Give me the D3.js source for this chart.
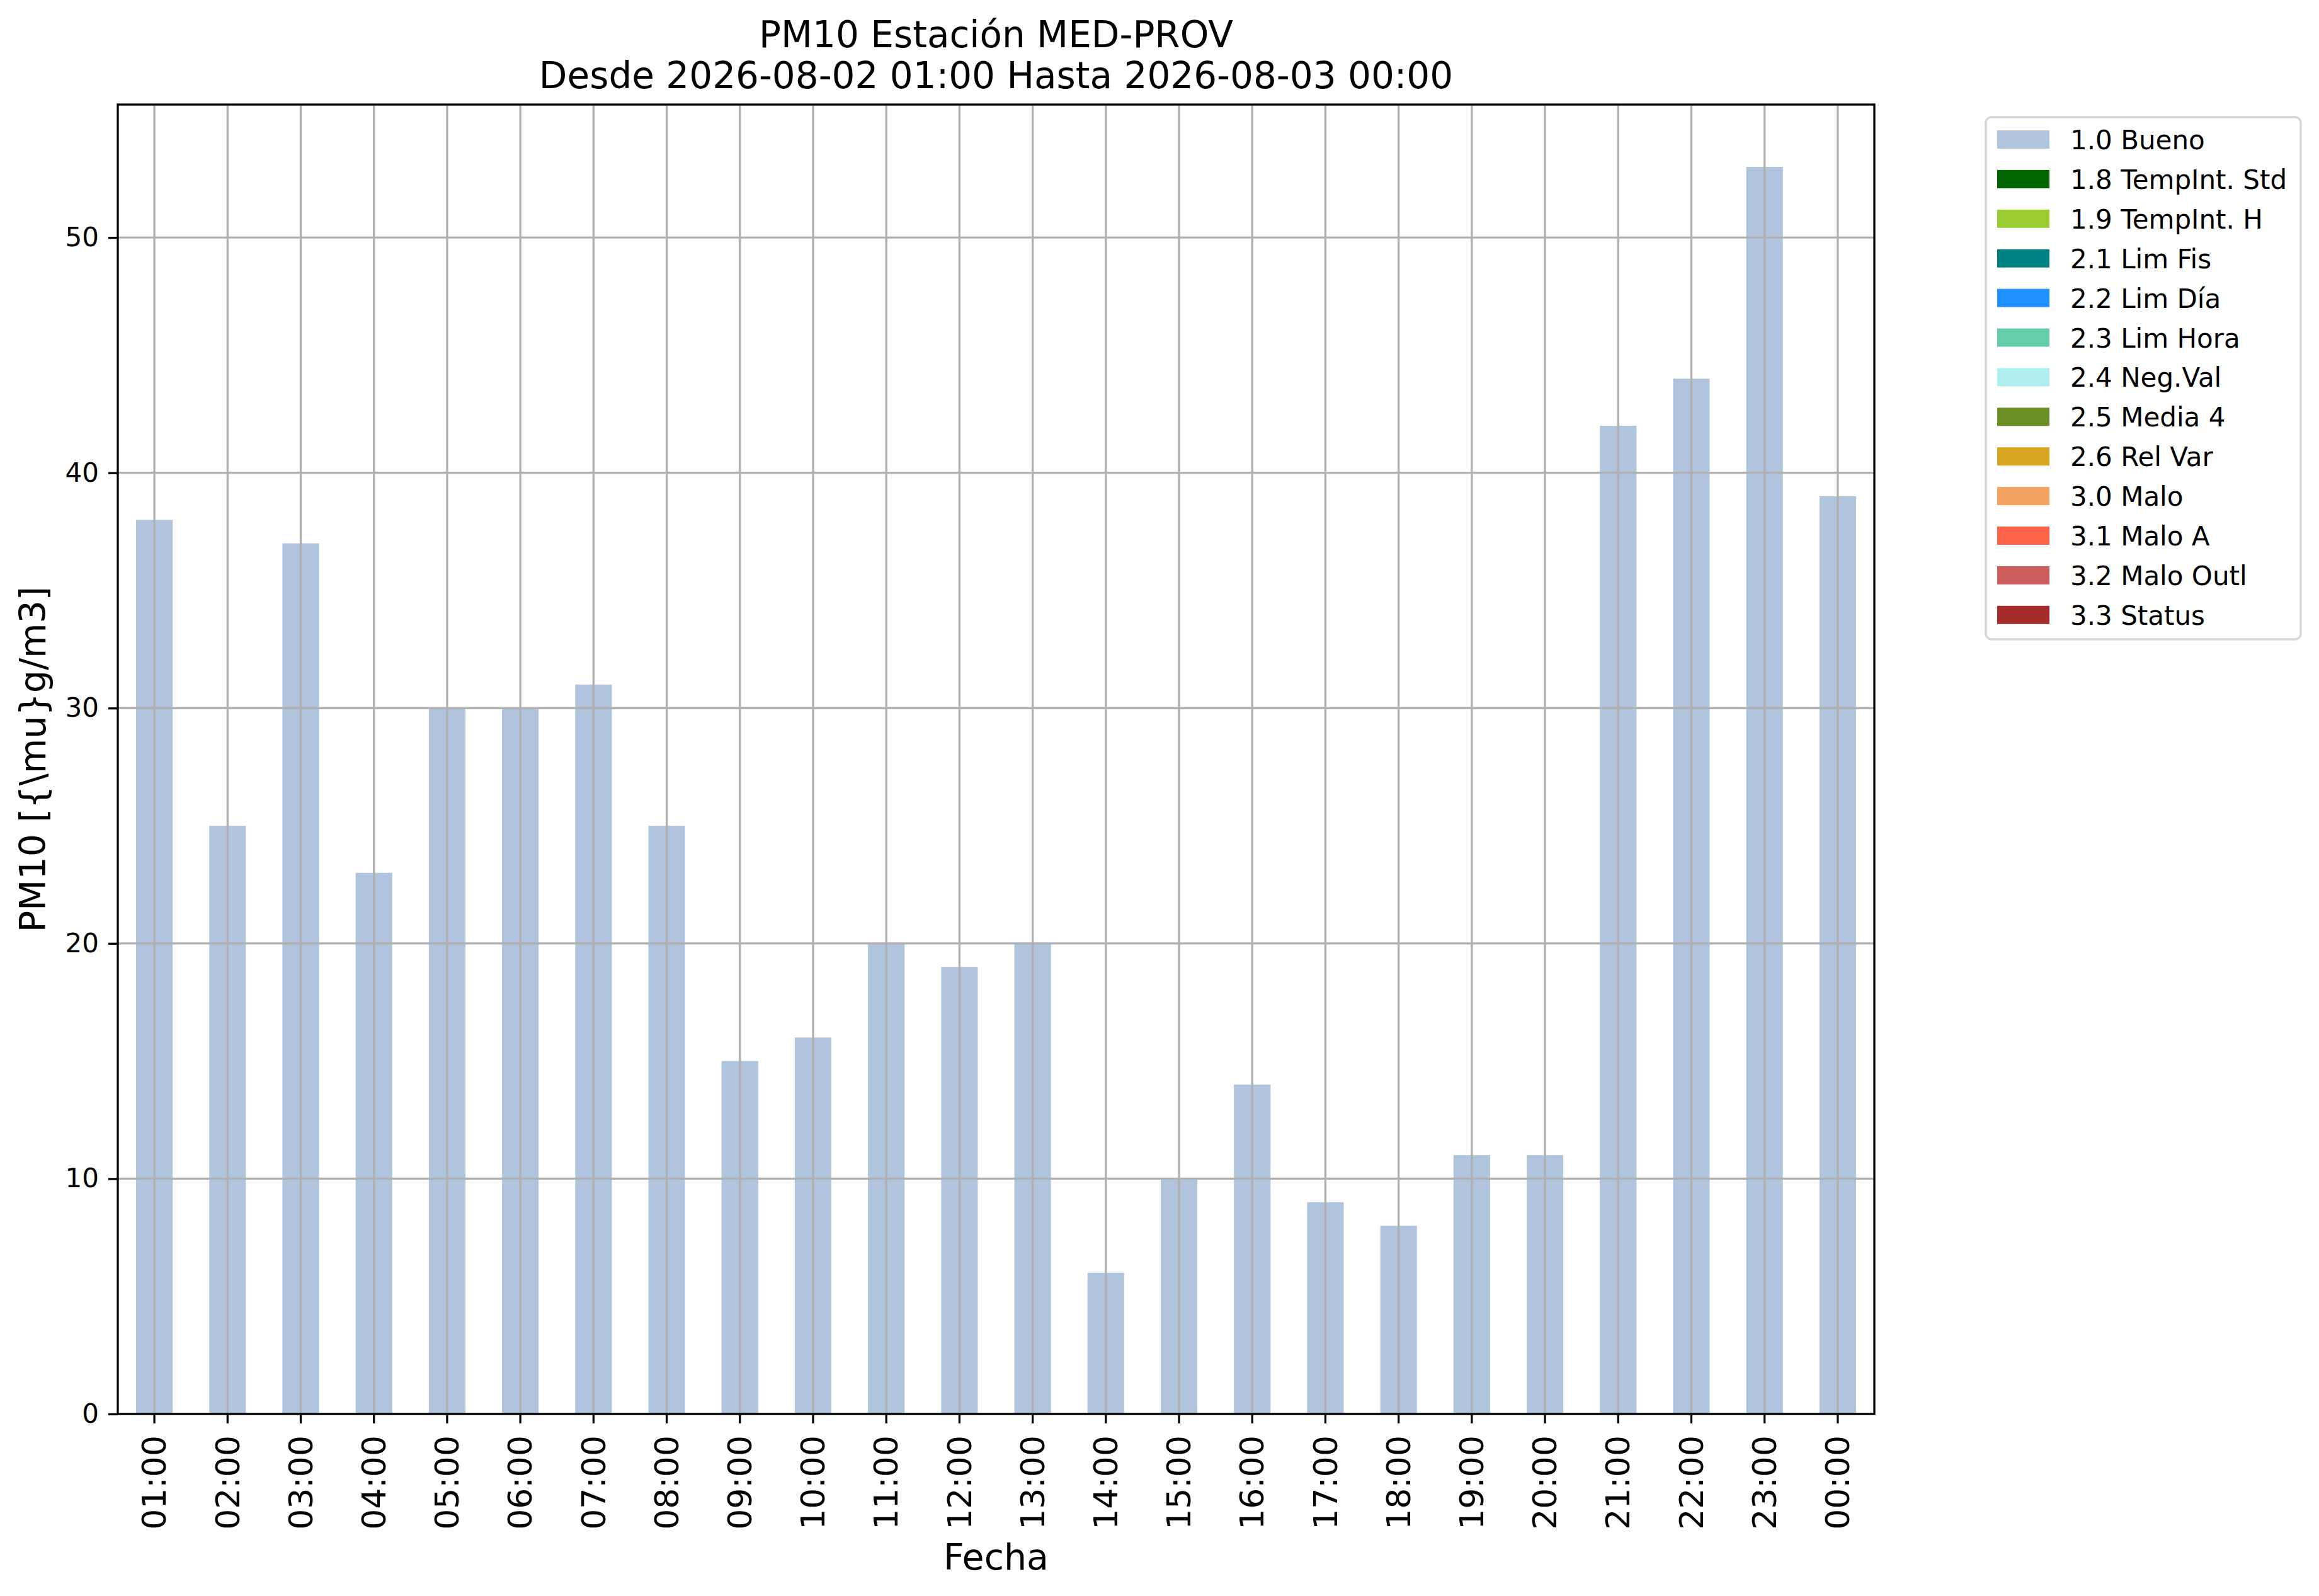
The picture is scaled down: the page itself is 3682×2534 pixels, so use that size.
<!doctype html>
<html lang="es">
<head>
    <meta charset="utf-8">
    <title>PM10 Estación MED-PROV</title>
    <script src="https://cdnjs.cloudflare.com/ajax/libs/d3/7.8.5/d3.min.js"></script>
    <style>
        body { margin: 0; background: #fff; }
        #chart text { font-family: "DejaVu Sans", sans-serif; fill: #000; }
    </style>
</head>
<body>
    <div id="chart"></div>
    <script>

        // data
        var hours = ["01:00", "02:00", "03:00", "04:00", "05:00", "06:00", "07:00", "08:00",
                     "09:00", "10:00", "11:00", "12:00", "13:00", "14:00", "15:00", "16:00",
                     "17:00", "18:00", "19:00", "20:00", "21:00", "22:00", "23:00", "00:00"];
        var pm10 = [38, 25, 37, 23, 30, 30, 31, 25, 15, 16, 20, 19, 20, 6, 10, 14, 9, 8, 11, 11, 42, 44, 53, 39];
        var yTicks = [0, 10, 20, 30, 40, 50];
        var legendLabels = ["1.0 Bueno", "1.8 TempInt. Std", "1.9 TempInt. H", "2.1 Lim Fis", "2.2 Lim Día",
                            "2.3 Lim Hora", "2.4 Neg.Val", "2.5 Media 4", "2.6 Rel Var", "3.0 Malo",
                            "3.1 Malo A", "3.2 Malo Outl", "3.3 Status"];
        var legendColors = ["#b0c4de", "#006400", "#9acd32", "#008080", "#1e90ff",
                            "#66cdaa", "#afeeee", "#6b8e23", "#daa520", "#f4a460",
                            "#ff6347", "#cd5c5c", "#a52a2a"];
        var titleLines = ["PM10 Estación MED-PROV", "Desde 2026-08-02 01:00 Hasta 2026-08-03 00:00"];

        var W = 3682, H = 2534;
        var plot = { left: 187, right: 2976, top: 166, bottom: 2245 };
        var lw = 3.3;

        var svg = d3.select("#chart").append("svg")
            .attr("width", W)
            .attr("height", H);

        // band scale: bar width is half the step, like pandas' bar plot
        var x = d3.scaleBand()
            .domain(hours)
            .range([plot.left, plot.right])
            .paddingInner(0.5)
            .paddingOuter(0.25);

        // 5% headroom above the tallest bar
        var y = d3.scaleLinear()
            .domain([0, d3.max(pm10) * 1.05])
            .range([plot.bottom, plot.top]);

        // bars
        svg.append("g").selectAll("rect")
            .data(pm10)
            .enter()
            .append("rect")
            .attr("x", function(d, i) { return x(hours[i]); })
            .attr("y", function(d) { return y(d); })
            .attr("width", x.bandwidth())
            .attr("height", function(d) { return y(0) - y(d); })
            .attr("fill", legendColors[0]);

        // grid drawn over the bars
        var grid = svg.append("g")
            .attr("stroke", "#b0b0b0")
            .attr("stroke-width", lw);

        grid.selectAll("line.v")
            .data(hours)
            .enter()
            .append("line")
            .attr("class", "v")
            .attr("x1", function(d) { return x(d) + x.bandwidth() / 2; })
            .attr("x2", function(d) { return x(d) + x.bandwidth() / 2; })
            .attr("y1", plot.top)
            .attr("y2", plot.bottom);

        grid.selectAll("line.h")
            .data(yTicks)
            .enter()
            .append("line")
            .attr("class", "h")
            .attr("x1", plot.left)
            .attr("x2", plot.right)
            .attr("y1", function(d) { return y(d); })
            .attr("y2", function(d) { return y(d); });

        // axes
        var yAxis = svg.append("g")
            .attr("transform", "translate(" + plot.left + ",0)")
            .call(d3.axisLeft(y).tickValues(yTicks).tickSize(15).tickPadding(15).tickFormat(d3.format("d")));
        yAxis.select(".domain").remove();
        yAxis.selectAll("line").attr("stroke", "#000").attr("stroke-width", lw);
        yAxis.selectAll("text").style("font-size", "42px");

        var xAxis = svg.append("g")
            .attr("transform", "translate(0," + plot.bottom + ")")
            .call(d3.axisBottom(x).tickSize(15).tickPadding(15));
        xAxis.select(".domain").remove();
        xAxis.selectAll("line").attr("stroke", "#000").attr("stroke-width", lw);
        xAxis.selectAll("text")
            .style("font-size", "52px")
            .attr("text-anchor", "end")
            .attr("dy", "0.35em")
            .attr("transform", "translate(0,34) rotate(-90)")
            .attr("x", 0)
            .attr("y", 0);

        // frame
        svg.append("rect")
            .attr("x", plot.left)
            .attr("y", plot.top)
            .attr("width", plot.right - plot.left)
            .attr("height", plot.bottom - plot.top)
            .attr("fill", "none")
            .attr("stroke", "#000")
            .attr("stroke-width", lw);

        // titles
        var cx = (plot.left + plot.right) / 2;
        svg.append("text")
            .attr("x", cx)
            .attr("text-anchor", "middle")
            .style("font-size", "58px")
            .selectAll("tspan")
            .data(titleLines)
            .enter()
            .append("tspan")
            .attr("x", cx)
            .attr("y", function(d, i) { return 75 + i * 65; })
            .text(function(d) { return d; });

        svg.append("text")
            .attr("x", cx)
            .attr("y", 2492)
            .attr("text-anchor", "middle")
            .style("font-size", "57px")
            .text("Fecha");

        svg.append("text")
            .attr("transform", "translate(72," + (plot.top + plot.bottom) / 2 + ") rotate(-90)")
            .attr("text-anchor", "middle")
            .style("font-size", "57px")
            .text("PM10 [{\\mu}g/m3]");

        // legend
        var rowH = 62.9;
        var legend = svg.append("g");
        legend.append("rect")
            .attr("x", 3153)
            .attr("y", 186)
            .attr("width", 500)
            .attr("height", 829)
            .attr("rx", 9)
            .attr("fill", "#fff")
            .attr("stroke", "#d6d6d6")
            .attr("stroke-width", lw);

        var item = legend.selectAll("g.item")
            .data(legendLabels)
            .enter()
            .append("g")
            .attr("class", "item")
            .attr("transform", function(d, i) { return "translate(0," + i * rowH + ")"; });

        item.append("rect")
            .attr("x", 3171)
            .attr("y", 207)
            .attr("width", 83)
            .attr("height", 29)
            .attr("fill", function(d, i) { return legendColors[i]; });

        item.append("text")
            .attr("x", 3287)
            .attr("y", 237)
            .style("font-size", "42px")
            .text(function(d) { return d; });

    </script>
</body>
</html>
